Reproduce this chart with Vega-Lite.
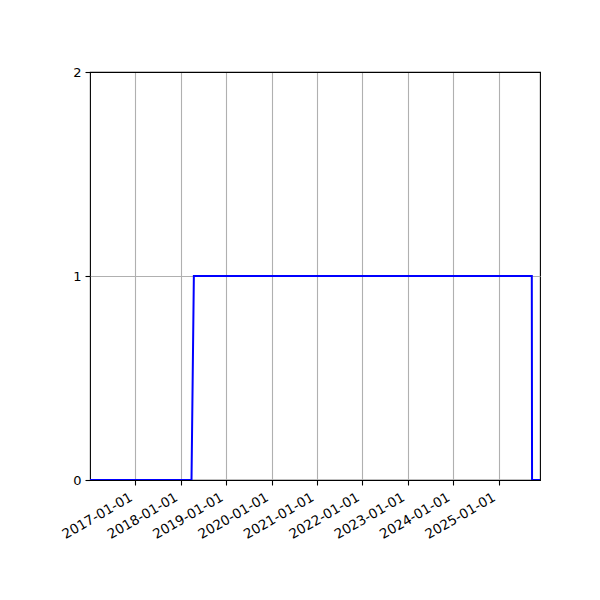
{
  "$schema": "https://vega.github.io/schema/vega-lite/v6.json",
  "width": 450,
  "height": 408,
  "autosize": {"type": "none"},
  "padding": {"left": 90, "top": 72, "right": 60, "bottom": 120},
  "background": "white",
  "data": {
    "values": [
      {"date": "2016-01-01", "value": 0},
      {"date": "2018-03-28", "value": 0},
      {"date": "2018-04-16", "value": 1},
      {"date": "2025-09-26", "value": 1},
      {"date": "2025-09-28", "value": 0},
      {"date": "2025-12-01", "value": 0}
    ]
  },
  "mark": {"type": "line", "color": "#0000ff", "strokeWidth": 2, "clip": true},
  "encoding": {
    "x": {
      "field": "date",
      "type": "temporal",
      "title": null,
      "scale": {
        "type": "utc",
        "nice": false,
        "domain": [
          {"year": 2016, "month": 1, "date": 1, "utc": true},
          {"year": 2025, "month": 12, "date": 1, "utc": true}
        ]
      },
      "axis": {
        "values": [
          {"year": 2017, "month": 1, "date": 1, "utc": true},
          {"year": 2018, "month": 1, "date": 1, "utc": true},
          {"year": 2019, "month": 1, "date": 1, "utc": true},
          {"year": 2020, "month": 1, "date": 1, "utc": true},
          {"year": 2021, "month": 1, "date": 1, "utc": true},
          {"year": 2022, "month": 1, "date": 1, "utc": true},
          {"year": 2023, "month": 1, "date": 1, "utc": true},
          {"year": 2024, "month": 1, "date": 1, "utc": true},
          {"year": 2025, "month": 1, "date": 1, "utc": true}
        ],
        "format": "%Y-%m-%d",
        "labelAngle": -30,
        "labelAlign": "right",
        "labelBaseline": "top",
        "labelPadding": 5,
        "labelOffset": -8,
        "labelFontSize": 13.5
      }
    },
    "y": {
      "field": "value",
      "type": "quantitative",
      "title": null,
      "scale": {"domain": [0, 2], "nice": false, "zero": false},
      "axis": {
        "tickCount": 2,
        "labelPadding": 4,
        "gridColor": {
          "condition": {"test": "datum.value == 1", "value": "#b0b0b0"},
          "value": "black"
        }
      }
    }
  },
  "config": {
    "view": {"stroke": "black", "strokeWidth": 1.1},
    "axis": {
      "domain": false,
      "grid": true,
      "gridColor": "#b0b0b0",
      "gridWidth": 1.1,
      "gridOpacity": 1,
      "ticks": true,
      "tickColor": "black",
      "tickSize": 5,
      "tickWidth": 1.1,
      "labelColor": "black",
      "labelFont": "DejaVu Sans",
      "labelFontSize": 13,
      "labelFlush": false,
      "labelOverlap": false
    }
  }
}
